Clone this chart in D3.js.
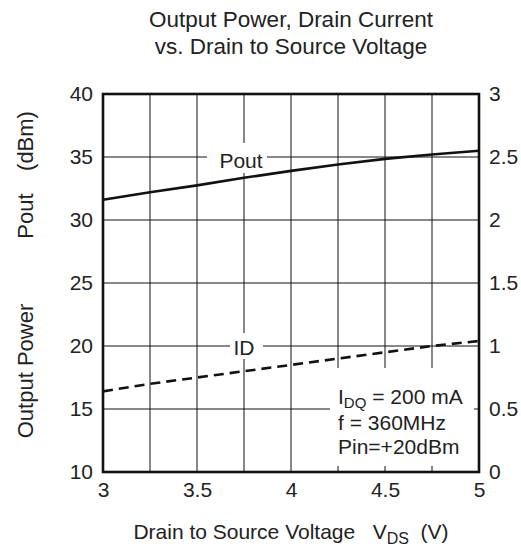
<!DOCTYPE html>
<html>
<head>
<meta charset="utf-8">
<script src="https://cdn.jsdelivr.net/npm/d3@7"></script>
<style>
  body { margin: 0; background: #fff; }
  text { font-family: "Liberation Sans", Arial, sans-serif; fill: #222; white-space: pre; }
</style>
</head>
<body>
<div id="chart"></div>
<script>
// values
const vds = [3, 3.25, 3.5, 3.75, 4, 4.25, 4.5, 4.75, 5];
const pout = [31.6, 32.2, 32.75, 33.35, 33.9, 34.4, 34.85, 35.2, 35.5];
const idrain = [0.64, 0.70, 0.75, 0.80, 0.85, 0.90, 0.95, 1.00, 1.04];

const xTicks = [3, 3.5, 4, 4.5, 5];
const xGrid = [3.25, 3.5, 3.75, 4, 4.25, 4.5, 4.75];
const leftTicks = [10, 15, 20, 25, 30, 35, 40];
const rightTicks = [0, 0.5, 1, 1.5, 2, 2.5, 3];

const width = 521, height = 555;
const plotL = 103, plotR = 479, plotT = 94, plotB = 472;

const svg = d3.select('#chart').append('svg')
  .attr('width', width)
  .attr('height', height);

const x = d3.scaleLinear().domain([3, 5]).range([plotL, plotR]);
const yL = d3.scaleLinear().domain([10, 40]).range([plotB, plotT]);
const yR = d3.scaleLinear().domain([0, 3]).range([plotB, plotT]);

// title
svg.append('text').attr('x', 291).attr('y', 27).attr('text-anchor', 'middle')
  .style('font-size', '22.5px').text('Output Power, Drain Current');
svg.append('text').attr('x', 291).attr('y', 54).attr('text-anchor', 'middle')
  .style('font-size', '22.5px').text('vs. Drain to Source Voltage');

// grid
const grid = svg.append('g').attr('stroke', '#111').attr('stroke-width', 1);
grid.selectAll('line.v').data(xGrid).enter().append('line')
  .attr('x1', d => x(d)).attr('x2', d => x(d))
  .attr('y1', plotT).attr('y2', plotB);
grid.selectAll('line.h').data(leftTicks.slice(1, -1)).enter().append('line')
  .attr('x1', plotL).attr('x2', plotR)
  .attr('y1', d => yL(d)).attr('y2', d => yL(d));

// white boxes behind the labels
svg.append('rect').attr('x', 207).attr('y', 143).attr('width', 60).attr('height', 30).attr('fill', '#fff');
svg.append('rect').attr('x', 230).attr('y', 333).attr('width', 33).attr('height', 26).attr('fill', '#fff');
svg.append('rect').attr('x', 330).attr('y', 368).attr('width', 144).attr('height', 98).attr('fill', '#fff');

svg.append('text').attr('x', 241).attr('y', 168).attr('text-anchor', 'middle')
  .style('font-size', '21px').text('Pout');
svg.append('text').attr('x', 244).attr('y', 355).attr('text-anchor', 'middle')
  .style('font-size', '21px').text('ID');

const note = svg.append('g').style('font-size', '21px');
const t1 = note.append('text').attr('x', 338).attr('y', 404);
t1.append('tspan').text('I');
t1.append('tspan').attr('dy', 4).style('font-size', '15px').text('DQ');
t1.append('tspan').attr('dy', -4).text(' = 200 mA');
note.append('text').attr('x', 338).attr('y', 430).text('f = 360MHz');
note.append('text').attr('x', 338).attr('y', 454).text('Pin=+20dBm');

// curves
svg.append('path').datum(vds)
  .attr('fill', 'none').attr('stroke', '#111').attr('stroke-width', 2.6)
  .attr('d', d3.line().x(d => x(d)).y((d, i) => yL(pout[i])));
svg.append('path').datum(vds)
  .attr('fill', 'none').attr('stroke', '#111').attr('stroke-width', 2.6)
  .attr('stroke-dasharray', '10,6')
  .attr('d', d3.line().x(d => x(d)).y((d, i) => yR(idrain[i])));

// frame
svg.append('rect').attr('x', plotL).attr('y', plotT)
  .attr('width', plotR - plotL).attr('height', plotB - plotT)
  .attr('fill', 'none').attr('stroke', '#111').attr('stroke-width', 2.6);

// axes (labels only)
const axL = svg.append('g').attr('transform', `translate(${plotL},0)`)
  .call(d3.axisLeft(yL).tickValues(leftTicks).tickSize(0).tickPadding(10).tickFormat(d3.format('d')));
const axR = svg.append('g').attr('transform', `translate(${plotR},0)`)
  .call(d3.axisRight(yR).tickValues(rightTicks).tickSize(0).tickPadding(10).tickFormat(d => String(d)));
const axB = svg.append('g').attr('transform', `translate(0,${plotB})`)
  .call(d3.axisBottom(x).tickValues(xTicks).tickSize(0).tickPadding(10).tickFormat(d => String(d)));
[axL, axR, axB].forEach(a => {
  a.select('.domain').remove();
  a.selectAll('text').style('font-size', '21px').attr('fill', '#222')
    .style('font-family', '"Liberation Sans", Arial, sans-serif');
});

// axis titles
const yLabels = [['(dBm)', 141], ['Pout', 216], ['Output Power', 371]];
yLabels.forEach(([s, cy]) => {
  svg.append('text')
    .attr('transform', `translate(33,${cy}) rotate(-90)`)
    .attr('text-anchor', 'middle').style('font-size', '22px')
    .text(s);
});

const xl = svg.append('text').attr('x', 291).attr('y', 539)
  .attr('text-anchor', 'middle').style('font-size', '21px');
xl.append('tspan').text('Drain to Source Voltage   V');
xl.append('tspan').attr('dy', 5).style('font-size', '16px').text('DS');
xl.append('tspan').attr('dy', -5).text('  (V)');
</script>
</body>
</html>
